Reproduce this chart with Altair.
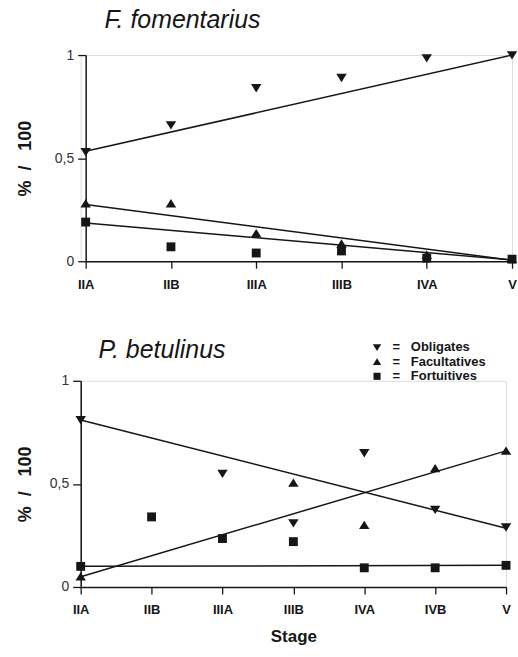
import altair as alt
import pandas as pd

# ---------------- data ----------------
groups = ["Obligates", "Facultatives", "Fortuitives"]

stages_top = ["IIA", "IIB", "IIIA", "IIIB", "IVA", "V"]
obl_top = [0.53, 0.66, 0.84, 0.89, 0.985, 1.0]
fac_top = [0.28, 0.28, 0.135, 0.085, 0.03, 0.01]
for_top = [0.19, 0.07, 0.04, 0.05, 0.015, 0.01]
# fitted trend lines (value at first and last stage)
fit_top = {"Obligates": [0.533, 1.0], "Facultatives": [0.275, 0.005], "Fortuitives": [0.186, 0.006]}

stages_bot = ["IIA", "IIB", "IIIA", "IIIB", "IVA", "IVB", "V"]
obl_bot = [0.81, None, 0.55, 0.31, 0.65, 0.375, 0.29]
fac_bot = [0.05, None, None, 0.505, 0.30, 0.575, 0.66]
for_bot = [0.10, 0.34, 0.235, 0.22, 0.093, 0.093, 0.105]
fit_bot = {"Obligates": [0.81, 0.285], "Facultatives": [0.05, 0.66], "Fortuitives": [0.10, 0.105]}

title_top = "F. fomentarius"
title_bot = "P. betulinus"
y_title = "%\u00a0\u00a0/\u00a0\u00a0\u00a0100"


def points_df(stages, series):
    rows = []
    for g, vals in zip(groups, series):
        for s, v in zip(stages, vals):
            if v is not None:
                rows.append({"stage": s, "group": g, "value": v})
    return pd.DataFrame(rows)


def fit_df(stages, fit):
    rows = []
    for g in groups:
        rows.append({"stage": stages[0], "group": g, "value": fit[g][0]})
        rows.append({"stage": stages[-1], "group": g, "value": fit[g][1]})
    return pd.DataFrame(rows)


INK = "#161616"
FONT = "Liberation Sans"

shape_scale = alt.Scale(
    domain=groups,
    range=[
        "M-1,-0.75L1,-0.75L0,0.85Z",
        "M-1,0.75L1,0.75L0,-0.85Z",
        "M-0.85,-0.85H0.85V0.85H-0.85Z",
    ],
)


def panel(stages, series, fit, title, width, shift, title_pad, x_title, legend, dx, offset):
    x = alt.X(
        "stage:N",
        scale=alt.Scale(type="point", domain=stages, padding=0, range=[shift, width]),
        axis=alt.Axis(
            title=x_title,
            labelAngle=0,
            tickSize=7,
            tickWidth=1.3,
            tickColor=INK,
            domainColor=INK,
            domainWidth=1.5,
            labelFontWeight="bold",
            labelFontSize=13,
            labelColor=INK,
            labelPadding=10,
            titleFontSize=17,
            titleFontWeight="bold",
            titleColor=INK,
            titlePadding=12,
        ),
    )
    y = alt.Y(
        "value:Q",
        scale=alt.Scale(domain=[0, 1]),
        axis=alt.Axis(
            values=[0, 0.5, 1],
            format="~g",
            labelExpr="replace(datum.label, '.', ',')",
            grid=False,
            offset=-shift,
            tickSize=8,
            tickWidth=1.3,
            tickColor=INK,
            domainColor=INK,
            domainWidth=1.5,
            labelFontSize=14,
            labelColor="#333333",
            labelPadding=4,
            title=y_title,
            titleFontSize=18,
            titleFontWeight="bold",
            titleColor=INK,
            titlePadding=title_pad,
        ),
    )
    lines = alt.Chart(fit_df(stages, fit)).mark_line(color=INK, strokeWidth=1.5).encode(
        x=x, y=y, detail="group:N"
    )
    pts = alt.Chart(points_df(stages, series)).mark_point(
        filled=True, opacity=1, color=INK, size=110, clip=False
    ).encode(x=x, y=y, shape=alt.Shape("group:N", scale=shape_scale, legend=legend))
    return alt.layer(lines, pts).properties(
        width=width,
        height=207,
        title=alt.Title(
            title,
            anchor="start",
            frame="group",
            font=FONT,
            fontStyle="italic",
            fontWeight="normal",
            fontSize=25,
            color=INK,
            dx=dx,
            offset=offset,
        ),
    )


legend_bot = alt.Legend(
    title=None,
    orient="none",
    legendX=291,
    legendY=-40,
    labelExpr="'=\u00a0\u00a0\u00a0' + datum.label",
    labelFont=FONT,
    labelFontWeight="bold",
    labelFontSize=13,
    labelColor=INK,
    symbolSize=70,
    symbolFillColor=INK,
    symbolStrokeColor=INK,
    symbolStrokeWidth=0,
    symbolOffset=0,
    labelOffset=9,
    rowPadding=0.5,
)

top = panel(stages_top, [obl_top, fac_top, for_top], fit_top, title_top, 433, 5, 20, None, None, 24, 15)
bot = panel(stages_bot, [obl_bot, fac_bot, for_bot], fit_bot, title_bot, 427, 0, 15, "Stage", legend_bot, 18, -22)

chart = (
    alt.vconcat(top, bot, spacing=45)
    .resolve_scale(shape="independent", x="independent")
    .resolve_legend(shape="independent")
    .properties(padding={"left": 16, "top": 6, "right": 0, "bottom": 4})
    .configure_view(stroke=None)
    .configure(font=FONT)
)

chart.save("out.html", embed_options={"renderer": "svg", "actions": False})
